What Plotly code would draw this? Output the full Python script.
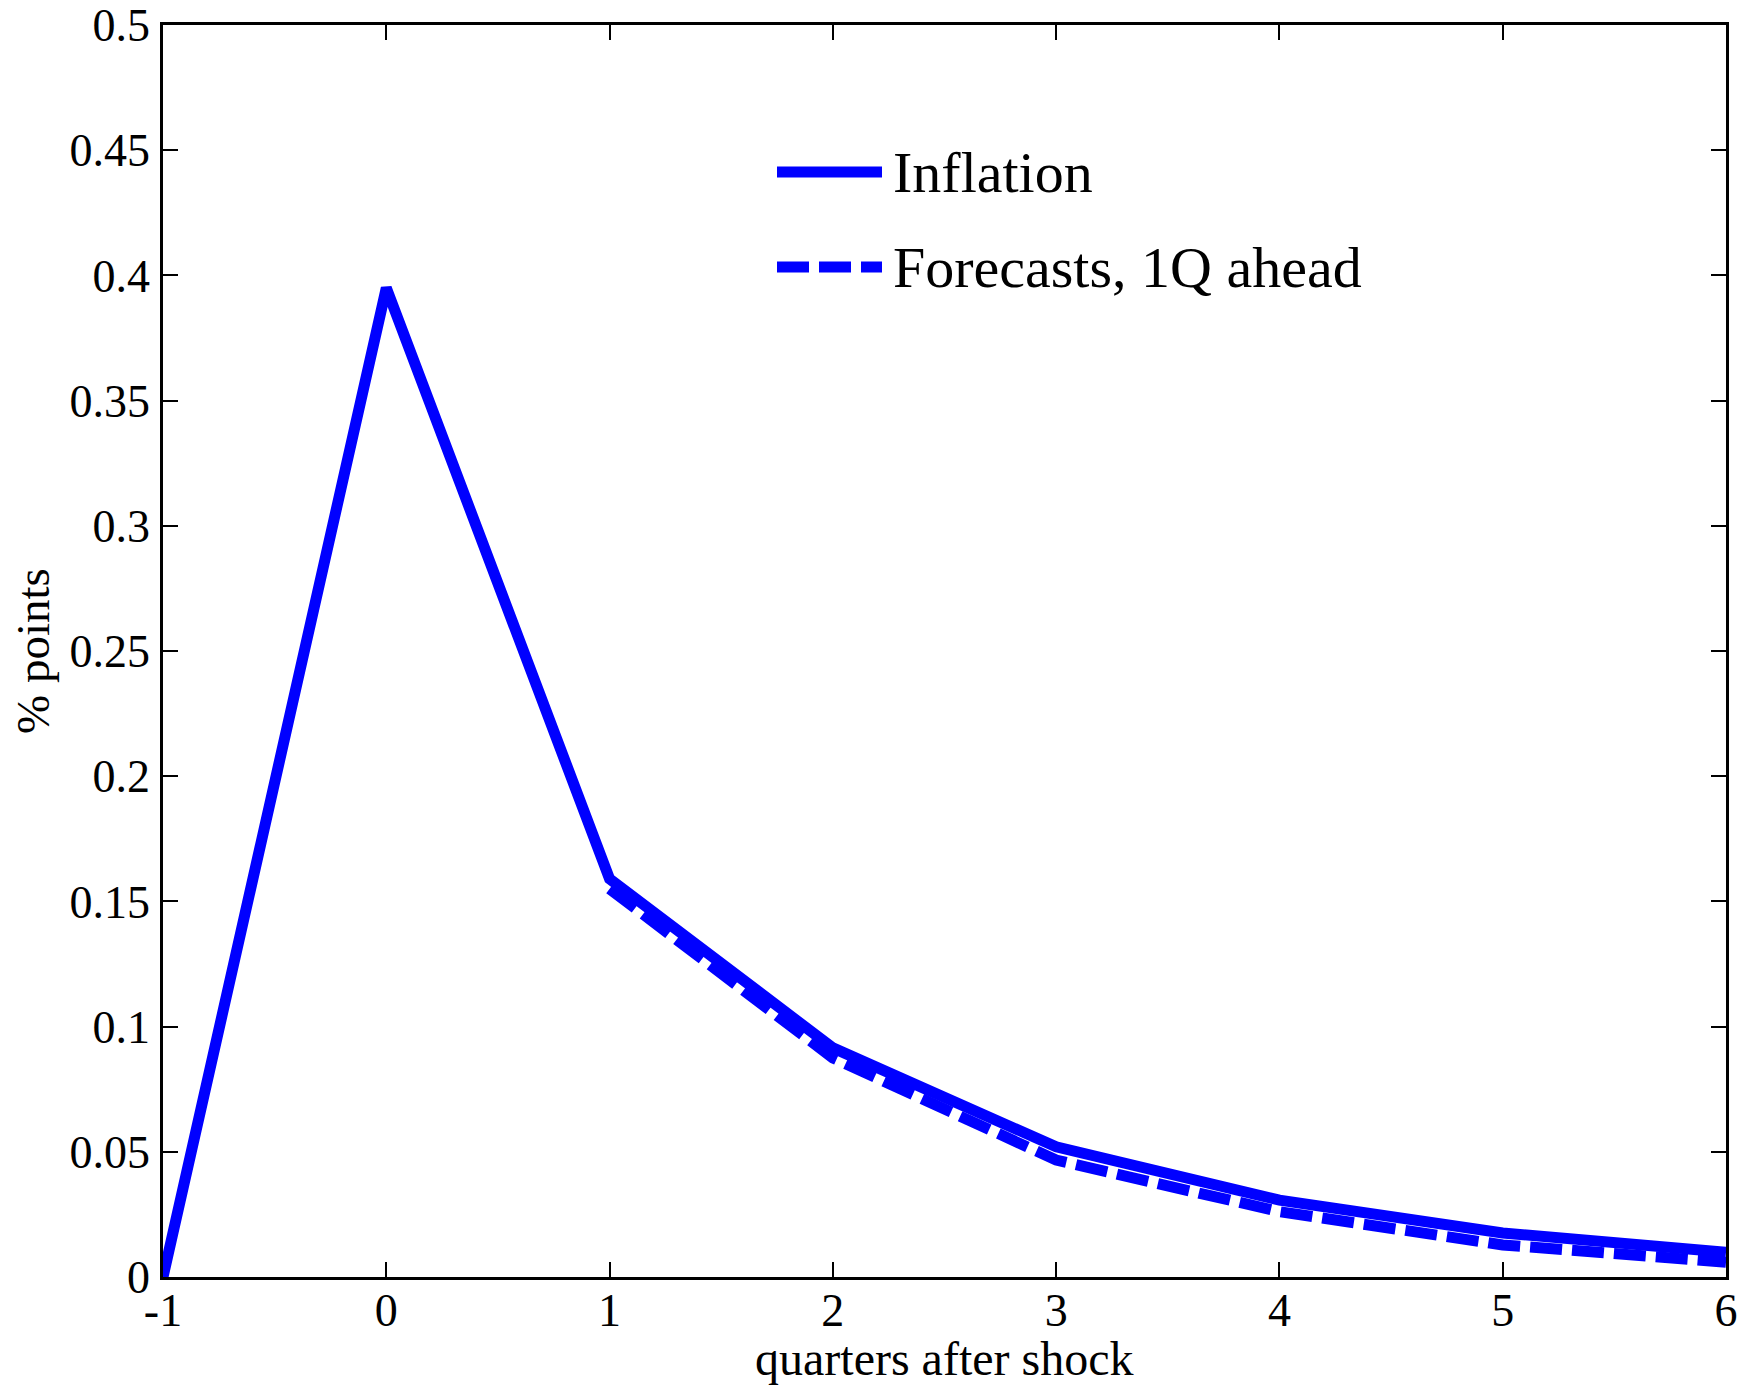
import plotly.graph_objects as go

# ---- data ----
quarters = [-1, 0, 1, 2, 3, 4, 5, 6]
inflation = [0.0, 0.395, 0.159, 0.0915, 0.052, 0.0307, 0.0176, 0.0099]
forecast_quarters = [1, 2, 3, 4, 5, 6]
forecasts = [0.155, 0.0875, 0.0467, 0.0261, 0.0128, 0.0059]
series_names = ["Inflation", "Forecasts, 1Q ahead"]
x_ticks = [-1, 0, 1, 2, 3, 4, 5, 6]
x_tick_labels = ["-1", "0", "1", "2", "3", "4", "5", "6"]
y_ticks = [0, 0.05, 0.1, 0.15, 0.2, 0.25, 0.3, 0.35, 0.4, 0.45, 0.5]
y_tick_labels = ["0", "0.05", "0.1", "0.15", "0.2", "0.25", "0.3", "0.35", "0.4", "0.45", "0.5"]

FONT = "Liberation Serif, Times New Roman, serif"
BLUE = "#0000ff"
DASH = "32px,10px"
LW = 11

fig = go.Figure()
fig.add_trace(go.Scatter(x=forecast_quarters, y=forecasts, mode="lines",
                         name=series_names[1],
                         line=dict(color=BLUE, width=LW, dash=DASH)))
fig.add_trace(go.Scatter(x=quarters, y=inflation, mode="lines",
                         name=series_names[0],
                         line=dict(color=BLUE, width=LW)))

axis_common = dict(showgrid=False, zeroline=False, showline=True, linecolor="black",
                   linewidth=2.5, mirror="ticks", ticks="inside", ticklen=15,
                   tickwidth=2, tickcolor="black", automargin=False,
                   tickfont=dict(family=FONT, size=46, color="black"))

fig.update_xaxes(range=[-1, 6], tickvals=x_ticks, ticktext=x_tick_labels,
                 ticklabelstandoff=-9, **axis_common)
fig.update_yaxes(range=[0, 0.5], tickvals=y_ticks, ticktext=y_tick_labels,
                 ticklabelstandoff=1, **axis_common)

# custom legend (line samples + text) in paper coordinates
W, H = 1745, 1388
L, R, T, B = 163, 19, 25, 111
pw, ph = W - L - R, H - T - B
def px(x):
    return (x - L) / pw
def py(y):
    return (H - B - y) / ph

legend_rows = [(py(172), "solid"), (py(267), DASH)]
for (ypos, dash), name in zip(legend_rows, series_names):
    fig.add_shape(type="line", xref="paper", yref="paper",
                  x0=px(777), x1=px(882), y0=ypos, y1=ypos,
                  line=dict(color=BLUE, width=LW, dash=dash))
    fig.add_annotation(xref="paper", yref="paper", x=px(891), y=ypos,
                       xanchor="left", yanchor="middle", text=name, showarrow=False,
                       font=dict(family=FONT, size=58, color="black"))

fig.add_annotation(xref="paper", yref="paper", x=0.5, y=py(1359),
                   xanchor="center", yanchor="middle", text="quarters after shock",
                   showarrow=False, font=dict(family=FONT, size=48, color="black"))
fig.add_annotation(xref="paper", yref="paper", x=px(33), y=py(651),
                   xanchor="center", yanchor="middle", text="% points", textangle=-90,
                   showarrow=False, font=dict(family=FONT, size=47, color="black"))

fig.update_layout(width=W, height=H,
                  margin=dict(l=L, r=R, t=T, b=B, pad=0, autoexpand=False),
                  plot_bgcolor="white", paper_bgcolor="white",
                  showlegend=False)

fig.write_html("out.html", config={"displayModeBar": False},
               post_script="document.body.style.margin='0';document.body.style.overflow='hidden';")
